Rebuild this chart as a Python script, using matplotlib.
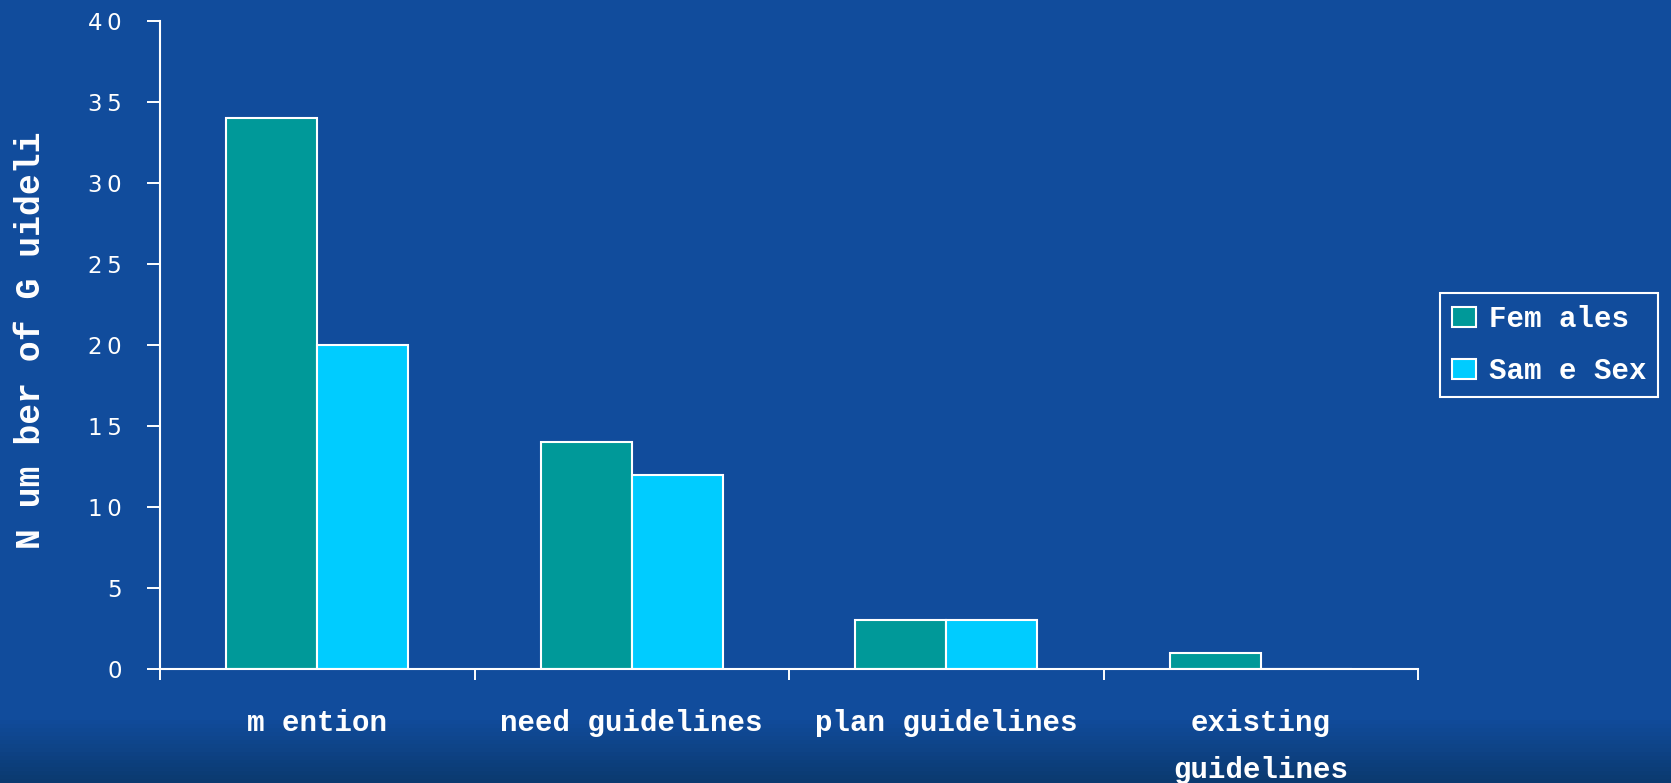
import numpy as np
import matplotlib
matplotlib.use('Agg')
import matplotlib.pyplot as plt
from matplotlib.patches import Patch

# chart data
categories = ['m ention', 'need guidelines', 'plan guidelines', 'existing\nguidelines']
series_names = ['Fem ales', 'Sam e Sex']
females = [34, 14, 3, 1]
same_sex = [20, 12, 3, 0]
y_ticks = [0, 5, 10, 15, 20, 25, 30, 35, 40]
y_label = 'N um ber of G uideli'

BG = '#0f4a9a'
C_FEM = '#009999'
C_SAME = '#00ccff'
MONO = 'Liberation Mono'

W, H = 1671, 783
fig = plt.figure(figsize=(W / 100, H / 100), dpi=100, facecolor=BG)

# background: flat blue, getting darker near the bottom edge
bg = fig.add_axes([0, 0, 1, 1], zorder=-10)
grad = np.linspace(0, 1, 200)[:, None]
top = np.array([0x11, 0x4c, 0x9c]) / 255
bot = np.array([0x0b, 0x3a, 0x70]) / 255
w = np.clip((grad - 0.92) / 0.08, 0, 1)
img = top * (1 - w)[..., None] + bot * w[..., None]
bg.imshow(img, aspect='auto', extent=[0, 1, 0, 1], origin='upper')
bg.axis('off')

ax = fig.add_axes([160 / W, 1 - 669 / H, (1418 - 160) / W, (669 - 21) / H])
ax.set_facecolor('none')

x = np.arange(len(categories))
bw = 0.29
ax.bar(x - bw / 2, females, bw, color=C_FEM, edgecolor='white', linewidth=1.5,
       label=series_names[0], zorder=3)
ax.bar(x + bw / 2, same_sex, bw, color=C_SAME, edgecolor='white', linewidth=1.5,
       label=series_names[1], zorder=3)

ax.set_xlim(-0.5, len(categories) - 0.5)
ax.set_ylim(0, 40)

for s in ['top', 'right']:
    ax.spines[s].set_visible(False)
for s in ['left', 'bottom']:
    ax.spines[s].set_color('white')
    ax.spines[s].set_linewidth(1.5)
    ax.spines[s].set_zorder(4)

ax.set_yticks(y_ticks)
ax.set_yticklabels(['\u2009'.join(str(v)) for v in y_ticks],
                   family='DejaVu Sans', fontsize=16.5, color='white')
ax.tick_params(axis='y', direction='out', length=9.4, width=1.4,
               color='white', pad=18)

# boundary ticks without labels, category names as minor ticks
ax.set_xticks(np.arange(-0.5, len(categories) + 0.5, 1.0))
ax.set_xticklabels([])
ax.tick_params(axis='x', which='major', direction='out', length=8,
               width=1.4, color='white')
ax.set_xticks(x, minor=True)
ax.set_xticklabels(categories, minor=True, family=MONO, fontweight='bold',
                   fontsize=21, color='white', linespacing=1.85)
ax.tick_params(axis='x', which='minor', length=0, pad=29)

fig.text(31 / W, 1 - 340 / H, y_label, rotation=90, ha='center', va='center',
         family=MONO, fontweight='bold', fontsize=25, color='white')

handles = [Patch(facecolor=C_FEM, edgecolor='white', linewidth=1.5),
           Patch(facecolor=C_SAME, edgecolor='white', linewidth=1.5)]
leg = fig.legend(handles, series_names, loc='upper left',
                 bbox_to_anchor=(1440 / W, 1 - 293 / H),
                 prop={'family': MONO, 'weight': 'bold', 'size': 21},
                 frameon=True, fancybox=False, framealpha=1,
                 handlelength=0.8, handleheight=0.7, handletextpad=0.45,
                 labelspacing=0.82, borderpad=0.42, borderaxespad=0)
leg.get_frame().set_facecolor('none')
leg.get_frame().set_edgecolor('white')
leg.get_frame().set_linewidth(1.5)
for t in leg.get_texts():
    t.set_color('white')

fig.savefig('out.png', dpi=100, facecolor=BG)
